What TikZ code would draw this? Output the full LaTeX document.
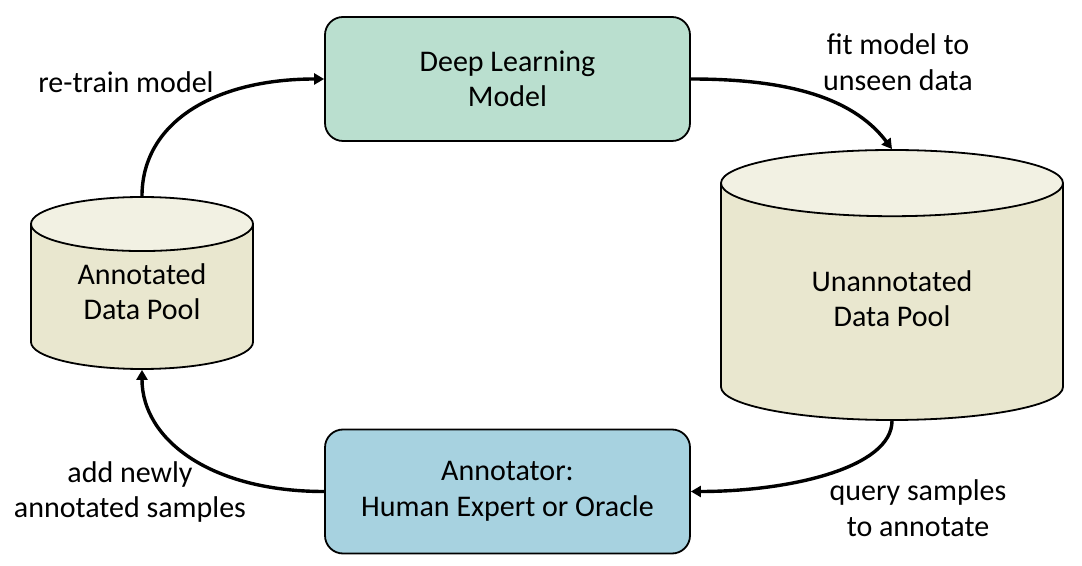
\documentclass[tikz,border=0pt]{standalone}
\usepackage{fontspec}
\setmainfont{Carlito}
\usetikzlibrary{shapes.geometric,arrows.meta}

\definecolor{modelfill}{HTML}{BADFCF}
\definecolor{expertfill}{HTML}{A7D2E0}
\definecolor{poolbody}{HTML}{E9E7CF}
\definecolor{pooltop}{HTML}{F2F1E3}

\tikzset{
  txt/.style={align=center, font=\fontsize{15}{17.75}\selectfont},
  box/.style={txt, draw, line width=0.9pt, rounded corners=9pt,
              minimum width=182.5pt, minimum height=62pt},
  pool/.style={txt, cylinder, shape border rotate=90, draw, line width=0.9pt,
               aspect=0.38, cylinder uses custom fill, anchor=shape center,
               cylinder body fill=poolbody, cylinder end fill=pooltop},
  flow/.style={line width=1.7pt, -{Triangle[length=5pt,width=5.5pt]}}
}

\begin{document}
\begin{tikzpicture}[x=0.5pt,y=-0.5pt]
\useasboundingbox (0,0) rectangle (1082,566);

\coordinate (M)  at (507.5, 79);
\coordinate (E)  at (507.5, 491.5);
\coordinate (AP) at (142, 283);
\coordinate (UP) at (892, 285);

\node[box, fill=modelfill]  (model)  at (M) {Deep Learning\\Model};
\node[box, fill=expertfill] (expert) at (E) {Annotator:\\Human Expert or Oracle};
\node[pool, minimum width=111pt, minimum height=86pt, text depth=10pt] (annpool)   at (AP) {Annotated\\Data Pool};
\node[pool, minimum width=171pt, minimum height=135pt, text depth=8pt] (unannpool) at (UP) {Unannotated\\Data Pool};

\path[flow] (annpool.top)      edge [out=90,in=180,out looseness=0.87,in looseness=1.3]   (model.west);
\path[flow] (model.east)       edge [out=0,in=127,out looseness=1.07,in looseness=0.82]   (unannpool.top);
\path[flow] (unannpool.bottom) edge [out=-90,in=0,out looseness=0.56,in looseness=1.19]   (expert.east);
\path[flow] (expert.west)      edge [out=180,in=-90,out looseness=1.33,in looseness=0.81] (annpool.bottom);

\node[txt] (retrain) at (126, 82)  {re-train model};
\node[txt] (fit)     at (898, 62)  {fit model to\\unseen data};
\node[txt] (query)   at (918, 508) {query samples\\to annotate};
\node[txt] (add)     at (130, 492) {add newly\\annotated samples};

\end{tikzpicture}
\end{document}
